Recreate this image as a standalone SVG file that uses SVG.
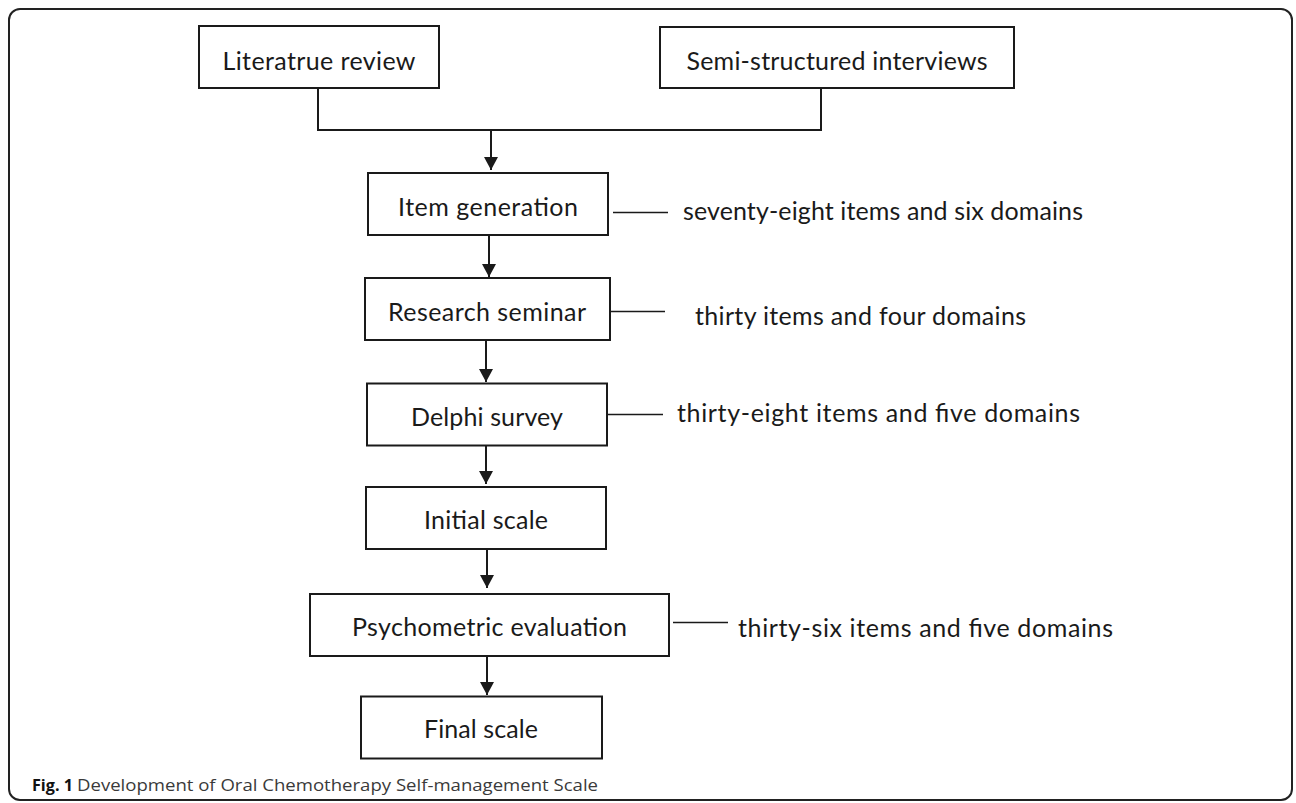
<svg xmlns="http://www.w3.org/2000/svg" width="1296" height="803" viewBox="0 0 1296 803">
<style>
.box{fill:#fff;stroke:#1a1a1a;stroke-width:2}
.lbl{font-family:Lato,"Liberation Sans",sans-serif;font-size:25px;fill:#1a1a1a}
.ctr{text-anchor:middle}
.conn{stroke:#1a1a1a;stroke-width:2;fill:none}
.thin{stroke:#1a1a1a;stroke-width:1.6;fill:none}
.cap{font-family:"Open Sans","Liberation Sans",sans-serif;font-size:16.5px}
</style>
<defs>
<marker id="ah" markerUnits="userSpaceOnUse" markerWidth="14" markerHeight="14" refX="13" refY="7" orient="auto">
<path d="M0,0 L13,7 L0,14 z" fill="#1a1a1a"/>
</marker>
</defs>
<rect x="9" y="9" width="1283" height="791" rx="11" ry="11" fill="#fff" stroke="#222" stroke-width="2"/>

<g id="connectors">
<polyline class="conn" points="318,88 318,130 821,130 821,88"/>
<line class="conn" x1="491" y1="130" x2="491" y2="170" marker-end="url(#ah)"/>
<line class="conn" x1="489" y1="235" x2="489" y2="277" marker-end="url(#ah)"/>
<line class="conn" x1="486" y1="340" x2="486" y2="382" marker-end="url(#ah)"/>
<line class="conn" x1="486" y1="446" x2="486" y2="484" marker-end="url(#ah)"/>
<line class="conn" x1="487" y1="549" x2="487" y2="588" marker-end="url(#ah)"/>
<line class="conn" x1="487" y1="656" x2="487" y2="695" marker-end="url(#ah)"/>
<line class="thin" x1="613" y1="212.5" x2="668" y2="212.5"/>
<line class="thin" x1="610" y1="311.5" x2="665" y2="311.5"/>
<line class="thin" x1="607" y1="414.5" x2="663" y2="414.5"/>
<line class="thin" x1="673" y1="622.5" x2="728" y2="622.5"/>
</g>

<g id="n-literature">
<rect class="box" x="199" y="26" width="240" height="62"/>
<text class="lbl ctr" x="319" y="70" textLength="193" lengthAdjust="spacing">Literatrue review</text>
</g>
<g id="n-interviews">
<rect class="box" x="660" y="27" width="354" height="61"/>
<text class="lbl ctr" x="837" y="70" textLength="301" lengthAdjust="spacing">Semi-structured interviews</text>
</g>
<g id="n-item">
<rect class="box" x="368" y="173" width="240" height="62"/>
<text class="lbl ctr" x="488" y="215.5" textLength="180" lengthAdjust="spacing">Item generation</text>
</g>
<g id="n-item-note">
<text class="lbl" x="683" y="219.5" textLength="400" lengthAdjust="spacing">seventy-eight items and six domains</text>
</g>
<g id="n-seminar">
<rect class="box" x="365" y="278" width="245" height="62"/>
<text class="lbl ctr" x="487" y="320.5" textLength="198" lengthAdjust="spacing">Research seminar</text>
</g>
<g id="n-seminar-note">
<text class="lbl" x="695" y="325" textLength="331" lengthAdjust="spacing">thirty items and four domains</text>
</g>
<g id="n-delphi">
<rect class="box" x="367" y="383.5" width="240" height="62"/>
<text class="lbl ctr" x="487" y="425.5" textLength="152" lengthAdjust="spacing">Delphi survey</text>
</g>
<g id="n-delphi-note">
<text class="lbl" x="677" y="421.5" textLength="403" lengthAdjust="spacing">thirty-eight items and five domains</text>
</g>
<g id="n-initial">
<rect class="box" x="366" y="487" width="240" height="62"/>
<text class="lbl ctr" x="486" y="529" textLength="124" lengthAdjust="spacing">Initial scale</text>
</g>
<g id="n-psych">
<rect class="box" x="310" y="594" width="359" height="62"/>
<text class="lbl ctr" x="489.5" y="635.5" textLength="275" lengthAdjust="spacing">Psychometric evaluation</text>
</g>
<g id="n-psych-note">
<text class="lbl" x="738" y="636.5" textLength="375" lengthAdjust="spacing">thirty-six items and five domains</text>
</g>
<g id="n-final">
<rect class="box" x="361" y="696.5" width="241" height="62"/>
<text class="lbl ctr" x="481" y="738" textLength="114" lengthAdjust="spacing">Final scale</text>
</g>

<g id="caption">
<text class="cap" x="32" y="791" font-weight="bold" fill="#111" textLength="41" lengthAdjust="spacingAndGlyphs">Fig. 1</text>
<text class="cap" x="77" y="791" fill="#3a3a3a" textLength="521" lengthAdjust="spacingAndGlyphs">Development of Oral Chemotherapy Self-management Scale</text>
</g>
</svg>
